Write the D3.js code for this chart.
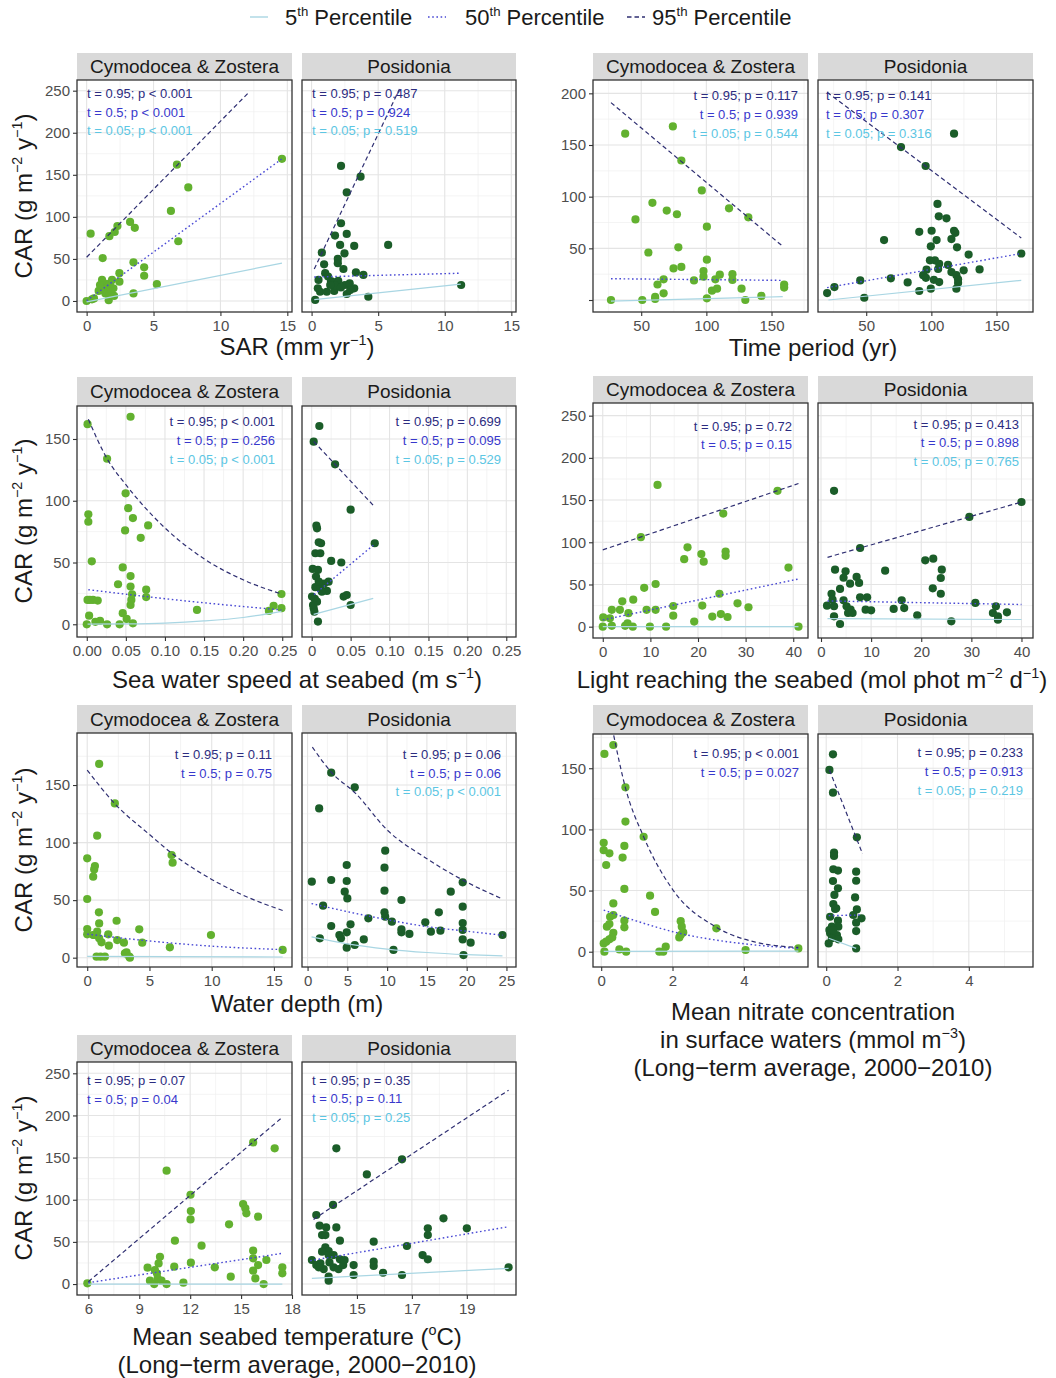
<!DOCTYPE html>
<html><head><meta charset="utf-8">
<script src="https://cdn.jsdelivr.net/npm/d3@7"></script>
<style>
body{margin:0;background:#fff;}
</style></head><body>
<svg id="c" width="1056" height="1378" xmlns="http://www.w3.org/2000/svg"></svg>
<script>
// ---------------- DATA ----------------
const facetNames = ["Cymodocea & Zostera", "Posidonia"];
const legendLabels = [["5", "th", " Percentile"], ["50", "th", " Percentile"], ["95", "th", " Percentile"]];

// SAR
const sarCZ = [[0,0],[0.4,2],[0.55,3],[0.3,80],[0.9,12],[1.15,13],[1.15,25],[1.3,21],[1.4,9],[1.6,17],[1.65,1],[1.75,21],[1.9,25],[2.05,6],[1.75,9],[1.0,19],[2.0,15],[1.2,51],[1.7,77],[2.1,82],[2.3,89],[2.45,33],[2.45,23],[3.25,94],[3.6,87],[3.5,46],[3.5,9],[4.3,40],[4.3,30],[5.25,20],[6.3,107],[6.75,162],[6.85,71],[7.6,135],[14.6,169]];
const sarPos = [[2.21,160.5],[3.68,147.8],[2.64,129],[2.21,92.4],[1.76,77.7],[2.64,79.7],[2.14,66.6],[3.2,65.4],[5.75,66.6],[0.77,57.5],[2.47,56.7],[1.97,50],[1.97,45],[0.94,43.6],[2.39,38],[1.02,33],[3.33,34],[3.89,31],[0.52,25],[1.24,29],[1.46,23.6],[1.7,22],[2.0,24],[2.5,19],[2.86,21],[3.2,15],[0.47,15],[0.64,11],[1.14,11],[1.7,12],[2.64,8.3],[4.26,5],[0.27,1.2],[11.23,19],[1.8,18],[2.2,16],[2.9,13],[1.4,19]];
const sarCZ95 = [[0,52],[12.1,247.6]];
const sarCZ50 = [[0,0.4],[14.6,169]];
const sarCZ05 = [[0,-1],[14.6,45]];
const sarPos95 = [[0.2,38],[6.6,252]];
const sarPos50 = [[0.2,28.5],[11.2,33]];
const sarPos05 = [[0.2,1.5],[11.2,20]];
const sarAnnCZ = ["t = 0.95; p < 0.001", "t = 0.5; p < 0.001", "t = 0.05; p < 0.001"];
const sarAnnPos = ["t = 0.95; p = 0.487", "t = 0.5; p = 0.924", "t = 0.05; p = 0.519"];

// Time period
const timeCZ = [[26.8,0],[37.7,161],[45.6,78],[50.8,0],[55.5,46],[58.6,94],[60.7,3],[60.7,1],[62.5,15],[67.2,20],[67.2,6.5],[69.6,86.5],[74.3,168],[74.8,30.6],[77.4,83],[78.5,51],[80.8,32],[80.8,135],[90.5,19],[96.5,106],[97.8,28],[97.8,22.6],[100.4,39],[100.4,71],[100.4,1.6],[104.3,9],[106.9,20],[108.2,11],[110.3,24.5],[117.4,88.7],[120,25],[120,19.4],[127,11],[129.9,0],[132.2,80],[142.2,4],[159.7,15],[159.7,12]];
const timePos = [[117.4,161],[76.7,148],[95.6,129.7],[104.7,93],[105.7,81],[111.6,79],[90.7,66],[100.2,67],[117.4,67],[118.4,65],[63.7,58],[104,58],[115.4,59],[99.6,52],[119.7,51],[128.6,44],[169,45],[98.9,38.4],[102.7,38.4],[106,35],[112.8,34],[96.3,29.4],[124.8,28.7],[137,29.6],[105.2,30],[93.7,24],[115.4,27],[119.2,24],[95.8,21.5],[101.9,19.5],[106,17.4],[120.5,16.5],[119.2,11],[90.7,8.7],[99.6,11],[81.8,17],[68.9,21],[45.4,19],[48.5,2.2],[25.6,12.5],[20,6.7],[120.5,20]];
const timeCZ95 = [[26.8,191],[158.6,52]];
const timeCZ50 = [[26.8,20.6],[158.6,19]];
const timeCZ05 = [[26.8,-1],[158.6,3.2]];
const timePos95 = [[20,201],[169,60]];
const timePos50 = [[20,12],[169,45]];
const timePos05 = [[21,0],[169,19]];
const timeAnnCZ = ["t = 0.95; p = 0.117", "t = 0.5; p = 0.939", "t = 0.05; p = 0.544"];
const timeAnnPos = ["t = 0.95; p = 0.141", "t = 0.5; p = 0.307", "t = 0.05; p = 0.316"];

// Sea water speed
const speedCZ = [[0.001,162],[0.002,89],[0.002,83],[0.001,19.7],[0.004,19.7],[0.008,19.7],[0.014,19.2],[0,0],[0.003,7],[0.0064,51],[0.011,2],[0.017,2.7],[0.026,0],[0.026,134],[0.040,32.4],[0.042,0],[0.046,46],[0.046,9],[0.0497,106],[0.049,76],[0.053,94],[0.051,4.3],[0.056,168],[0.056,39],[0.056,30.5],[0.058,24.3],[0.057,19.7],[0.056,15.6],[0.059,0.8],[0.059,86],[0.069,70],[0.0785,80],[0.076,28],[0.076,22],[0.141,11.6],[0.233,10.8],[0.239,15],[0.249,24.5],[0.249,13]];
const speedPos = [[0.0098,160.5],[0.0025,147.8],[0.030,129.5],[0.050,92.8],[0.081,65.6],[0.006,79.8],[0.0068,77.7],[0.009,66.4],[0.012,65.6],[0.0047,57.5],[0.011,57.5],[0.025,51.3],[0.038,50],[0.0013,44.8],[0.008,44],[0.0055,38.6],[0.0047,30],[0.011,29],[0.016,33],[0.0217,34.5],[0.0195,27],[0.0004,22.4],[0.004,20.5],[0.0068,18.3],[0.0025,13],[0.0034,10.2],[0.008,2.2],[0.041,22.4],[0.045,23.7],[0.050,15.6],[0.009,34.5],[0.013,26.4],[0.0017,15.6]];
const speedCZ95 = [[0.002,166],[0.026,134],[0.05,113],[0.1,78],[0.15,53],[0.2,36],[0.249,24.5]];
const speedCZ50 = [[0.002,28],[0.125,19],[0.249,11.6]];
const speedCZ05 = [[0.001,0.1],[0.05,0.3],[0.1,1],[0.15,2.7],[0.2,5.5],[0.249,10.5]];
const speedPos95 = [[0.0025,148],[0.081,95]];
const speedPos50 = [[0.003,24],[0.081,65]];
const speedPos05 = [[0.0025,8],[0.079,21]];
const speedAnnCZ = ["t = 0.95; p < 0.001", "t = 0.5; p = 0.256", "t = 0.05; p < 0.001"];
const speedAnnPos = ["t = 0.95; p = 0.699", "t = 0.5; p = 0.095", "t = 0.05; p = 0.529"];

// Light
const lightCZ = [[0,0],[0.1,11],[1.9,20],[1.5,10],[1.9,1],[3.6,20],[4.1,30],[4.7,1],[5.4,16],[5.2,4],[6.4,32],[6.3,0],[8.0,106],[8.7,46],[9.2,20],[9.9,0],[11.1,20],[11.1,50.6],[11.5,168],[13.3,0],[14.8,24.5],[14.8,13],[17.1,80],[17.8,94],[19.2,6],[20.7,86],[20.9,25],[21.2,77],[23,12],[24.5,39],[24.8,15],[25.3,134],[25.8,89],[25.8,84],[26.2,11.5],[28.3,27.7],[30.6,23],[36.7,161],[39,70],[41.1,0]];
const lightPos = [[2.6,161],[40,147.7],[29.6,130],[7.8,93.2],[20.8,78.6],[22.4,80.6],[2.8,67.5],[4.9,65.6],[12.8,66.4],[24.1,67.5],[4.5,58],[7.1,58.9],[7.6,51.8],[5.8,51],[23.9,57.7],[22.3,45.5],[23.9,39],[3.8,44.7],[2.1,39],[2.3,32],[4.5,31.3],[7.8,34.8],[9.2,34.8],[16.1,31.3],[30.8,28.1],[1.2,24.9],[2.6,24.2],[5.1,24.2],[5.9,20.1],[5.4,16.2],[6.3,16.2],[8.9,20.1],[10,19.4],[14.5,21],[16.6,22.1],[19.2,13.5],[34.9,24.2],[34.3,16.2],[35.3,12.3],[35.3,8.3],[37.1,17],[2.6,12.3],[3.8,3.2],[26,6.4]];
const lightCZ95 = [[0,91],[41.1,169.6]];
const lightCZ50 = [[0,8],[41.1,56.5]];
const lightCZ05 = [[0,0],[41.1,0]];
const lightPos95 = [[1.3,82.2],[40,147.7]];
const lightPos50 = [[1.3,30.5],[40,26.3]];
const lightPos05 = [[1.3,9.5],[40,8.5]];
const lightAnnCZ = ["t = 0.95; p = 0.72", "t = 0.5; p = 0.15"];
const lightAnnPos = ["t = 0.95; p = 0.413", "t = 0.5; p = 0.898", "t = 0.05; p = 0.765"];

// Water depth
const depthCZ = [[0.96,168.3],[2.22,134],[0.8,106],[0,86.3],[0.62,79.6],[0.56,76.7],[0.48,70.4],[0,51],[0.94,39.4],[0.96,29.8],[0,24.9],[0,20.3],[0.48,19.7],[0.8,22.6],[0.96,16.8],[1.15,13.3],[1.69,20.3],[1.74,10.4],[2.36,32.1],[2.41,15.3],[2.95,13],[3.03,3.8],[3.16,4.6],[3.38,0.9],[3.43,0],[4.18,24.6],[4.42,13],[6.78,89.2],[6.86,82.5],[6.64,9],[9.94,19.7],[15.7,6.7],[0.75,0.9],[1.07,0.9],[1.42,0.9],[0.56,19.7]];
const depthPos = [[2.97,160.7],[1.46,129.7],[5.93,148],[9.76,93],[9.67,78.2],[4.92,80.5],[0.53,66],[2.97,67.5],[4.92,66.6],[4.67,57.3],[5,51.5],[9.67,58.2],[18,57.3],[11.8,50.1],[19.5,65.5],[19.5,44.3],[1.95,45.2],[9.67,39.4],[9.76,35.6],[7.64,34.2],[16.5,39.4],[10.6,31.3],[14.8,30.7],[2.97,27.5],[5.4,29],[19.5,30.1],[4.92,22],[4,19.7],[4.2,16.8],[11.8,24.6],[11.8,22],[12.8,20.6],[15.5,22.6],[16.7,23.5],[19.5,24.1],[19.5,15.9],[20.5,13],[7.07,15.9],[5.93,11],[4.92,8.7],[10.8,6.7],[19.6,2.3],[24.5,19.7],[1.54,16.8]];
const depthCZ95 = [[0,163],[2.2,134],[5,107],[7,89],[10,68],[13,52],[15.7,41]];
const depthCZ50 = [[0,20.5],[5,14.5],[10,10],[15.7,7]];
const depthCZ05 = [[0,1.2],[15.7,0.6]];
const depthPos95 = [[0.6,183],[3,161],[6,143],[10,111],[15,86],[19.5,67.5],[24.5,51]];
const depthPos50 = [[0.5,47],[5,40],[10,33],[15,27],[20,23],[24.5,19.5]];
const depthPos05 = [[0.5,18],[5,12],[10,7.5],[15,4.5],[20,2.6],[24.5,1.5]];
const depthAnnCZ = ["t = 0.95; p = 0.11", "t = 0.5; p = 0.75"];
const depthAnnPos = ["t = 0.95; p = 0.06", "t = 0.5; p = 0.06", "t = 0.05; p < 0.001"];

// Nitrate
const nitCZ = [[0.09,161.7],[0.34,169],[0.68,134.4],[0.68,106.4],[1.19,94],[0.07,89],[0.07,83],[0.23,80.4],[0.14,70.9],[0.6,77],[0.65,86.5],[0.65,51.3],[0.34,39.5],[1.37,45.8],[1.51,32.5],[0.25,28.6],[0.34,30],[0.16,20.5],[0.23,22.6],[0.65,25.4],[0.65,19.9],[0.34,15.5],[0.31,11.7],[0.23,10.1],[0.14,8.2],[0.07,6.8],[0.09,0],[0.51,1.9],[0.7,0],[1.63,0],[1.74,0],[1.81,4.1],[2.23,25],[2.26,20.5],[2.19,11.7],[2.3,15.8],[2.23,13.6],[3.23,19.1],[4.05,1.4],[5.53,2.7]];
const nitPos = [[0.19,161.4],[0.09,148.6],[0.19,130],[0.86,93.5],[0.22,81],[0.22,78.3],[0.2,67.4],[0.33,66.3],[0.84,65.4],[0.19,57.8],[0.84,58],[0.33,51.8],[0.23,46.4],[0.81,44.4],[0.2,39],[0.28,35.5],[0.86,34.6],[0.76,30],[0.99,27.3],[0.11,28.6],[0.33,25.4],[0.84,23.7],[0.16,20.5],[0.34,20.5],[0.11,15],[0.3,13.6],[0.84,16.9],[0.16,11],[0.34,10.1],[0.07,6.8],[0.84,2.7],[0.25,35],[0.09,17.7],[0.2,17.7]];
const nitCZ95 = [[0.07,219],[0.35,177],[0.68,134],[1.19,94],[2,51],[3.23,20],[4.3,8],[5.53,3.5]];
const nitCZ50 = [[0.07,34],[1,25],[2.2,15],[3,10.5],[4,6.5],[5.53,2.7]];
const nitCZ05 = [[0.07,0.3],[5.53,0.5]];
const nitPos95 = [[0.09,148.6],[1.02,80]];
const nitPos50 = [[0.07,29.5],[0.95,30]];
const nitPos05 = [[0.07,11],[0.84,2.7]];
const nitAnnCZ = ["t = 0.95; p < 0.001", "t = 0.5; p = 0.027"];
const nitAnnPos = ["t = 0.95; p = 0.233", "t = 0.5; p = 0.913", "t = 0.05; p = 0.219"];

// Temperature
const tempCZ = [[5.94,0.8],[9.49,19.4],[9.63,4],[9.88,0],[9.92,16.6],[10.04,12.7],[10.08,6.7],[10.14,24.5],[10.22,32.4],[10.31,4],[10.61,0],[10.61,134.5],[11.1,51.4],[11.06,20.6],[11.6,1.6],[12.02,105.9],[12.04,86.6],[12.02,76.7],[12.04,25.3],[12.67,45.5],[13.45,19.8],[14.29,70.8],[14.39,8.7],[15.12,94.9],[15.25,89.8],[15.31,83.9],[15.71,168],[15.71,39.6],[15.71,30.5],[15.71,15.8],[15.84,6.7],[16,79.9],[16,22.5],[16.33,0],[16.49,28.5],[16.98,161],[17.43,19.8],[17.43,12.7]];
const tempPos = [[13.52,81.9],[14.25,161],[15.36,130],[16.64,148],[14.13,93.8],[13.64,69.2],[13.73,58.1],[13.85,58.1],[13.88,67.2],[14.25,67.2],[14.38,51.4],[15.61,50.2],[16.82,45.1],[18.15,77.9],[17.58,66.1],[17.58,58.1],[19,66.1],[13.85,43.5],[13.97,39.2],[13.73,38.4],[13.97,34.4],[14.15,34.4],[14.38,29.3],[17.39,34.4],[17.58,29.3],[13.36,28.5],[13.52,22.5],[13.67,24.5],[13.79,17.8],[14,25.7],[14.15,19.8],[14.33,17.8],[14.5,22.5],[14.55,28.5],[14.88,22.5],[14.88,10.7],[15.61,26.5],[15.61,21.4],[15.95,13.4],[16.64,10.7],[13.97,8.7],[13.97,4],[20.52,19.8],[13.61,19.8]];
const tempCZ95 = [[6,2.8],[17.43,197.8]];
const tempCZ50 = [[6,1.6],[17.43,36.4]];
const tempCZ05 = [[6,0],[17.43,0]];
const tempPos95 = [[13.42,76.7],[20.52,230]];
const tempPos50 = [[13.3,27.7],[20.52,68]];
const tempPos05 = [[13.36,6.7],[20.52,18.6]];
const tempAnnCZ = ["t = 0.95; p = 0.07", "t = 0.5; p = 0.04"];
const tempAnnPos = ["t = 0.95; p = 0.35", "t = 0.5; p = 0.11", "t = 0.05; p = 0.25"];

// Tick values
const carTicks250 = [0,50,100,150,200,250];
const carTicks200 = [0,50,100,150,200];
const carTicks150 = [0,50,100,150];
const sarTicks = [0,5,10,15];
const timeTicks = [50,100,150];
const speedTicks = [0,0.05,0.10,0.15,0.20,0.25];
const speedLabelsCZ = ["0.00","0.05","0.10","0.15","0.20","0.25"];
const speedLabelsPos = ["0","0.05","0.10","0.15","0.20","0.25"];
const lightTicks = [0,10,20,30,40];
const depthTicksCZ = [0,5,10,15];
const depthTicksPos = [0,5,10,15,20,25];
const nitTicks = [0,2,4];
const tempTicksCZ = [6,9,12,15,18];
const tempTicksPos = [15,17,19];

// ---------------- DRAWING ----------------
const FONT = "'Liberation Sans', Arial, Helvetica, sans-serif";
const COL_CZ = "#62b12f", COL_POS = "#1b5d29";
const COL95 = "#2f2f72", COL50 = "#4848d4", COL05 = "#a9d6e3";
const TXT = ["#2c2c80", "#3838cc", "#5cc6e3"];

const svg = d3.select("#c").style("font-family", FONT);
let clipN = 0;

function rich(sel, parts, fs) {
  let up = false;
  parts.forEach(p => {
    if (typeof p === "string") {
      const t = sel.append("tspan").text(p);
      if (up) { t.attr("dy", fs * 0.42); up = false; }
    } else {
      sel.append("tspan").attr("dy", -fs * 0.42).attr("font-size", fs * 0.6).text(p.s);
      up = true;
    }
  });
  return sel;
}

function panel(c) {
  const g = svg.append("g");
  const x = d3.scaleLinear().domain(c.xd).range([c.x0, c.x1]);
  const y = d3.scaleLinear().domain(c.yd).range([c.y1, c.y0]);
  g.append("rect").attr("x", c.x0).attr("y", c.sy).attr("width", c.x1 - c.x0).attr("height", c.y0 - c.sy).attr("fill", "#d9d9d9");
  g.append("text").attr("x", (c.x0 + c.x1) / 2).attr("y", (c.sy + c.y0) / 2 + 6.5)
    .attr("text-anchor", "middle").attr("font-size", 19).attr("fill", "#1a1a1a").text(c.name);
  const inX = v => v > c.xd[0] && v < c.xd[1];
  const inY = v => v > c.yd[0] && v < c.yd[1];
  g.selectAll(null).data((c.xm || []).filter(inX)).join("line")
    .attr("x1", d => x(d)).attr("x2", d => x(d)).attr("y1", c.y0).attr("y2", c.y1).attr("stroke", "#efefef").attr("stroke-width", 0.7);
  g.selectAll(null).data((c.ym || []).filter(inY)).join("line")
    .attr("y1", d => y(d)).attr("y2", d => y(d)).attr("x1", c.x0).attr("x2", c.x1).attr("stroke", "#efefef").attr("stroke-width", 0.7);
  g.selectAll(null).data(c.xt.filter(inX)).join("line")
    .attr("x1", d => x(d)).attr("x2", d => x(d)).attr("y1", c.y0).attr("y2", c.y1).attr("stroke", "#e4e4e4").attr("stroke-width", 1.1);
  g.selectAll(null).data(c.yt.filter(inY)).join("line")
    .attr("y1", d => y(d)).attr("y2", d => y(d)).attr("x1", c.x0).attr("x2", c.x1).attr("stroke", "#e4e4e4").attr("stroke-width", 1.1);
  const id = "clp" + (clipN++);
  svg.append("clipPath").attr("id", id).append("rect").attr("x", c.x0).attr("y", c.y0).attr("width", c.x1 - c.x0).attr("height", c.y1 - c.y0);
  const inner = g.append("g").attr("clip-path", `url(#${id})`);
  inner.selectAll("circle").data(c.pts).join("circle")
    .attr("cx", d => x(d[0])).attr("cy", d => y(d[1])).attr("r", 4.1).attr("fill", c.col);
  const line = d3.line().x(d => x(d[0])).y(d => y(d[1])).curve(d3.curveMonotoneX);
  if (c.q05) inner.append("path").attr("d", line(c.q05)).attr("fill", "none").attr("stroke", COL05).attr("stroke-width", 1.2);
  if (c.q50) inner.append("path").attr("d", line(c.q50)).attr("fill", "none").attr("stroke", COL50).attr("stroke-width", 1.4).attr("stroke-dasharray", "1.6,2.6");
  if (c.q95) inner.append("path").attr("d", line(c.q95)).attr("fill", "none").attr("stroke", COL95).attr("stroke-width", 1.2).attr("stroke-dasharray", "4.5,3");
  c.ann.forEach((t, i) => {
    g.append("text").attr("x", c.ax).attr("y", c.ay + i * 18.7 + 4.6)
      .attr("text-anchor", c.aa).attr("font-size", 13).attr("fill", TXT[i]).text(t);
  });
  g.append("rect").attr("x", c.x0).attr("y", c.y0).attr("width", c.x1 - c.x0).attr("height", c.y1 - c.y0)
    .attr("fill", "none").attr("stroke", "#333").attr("stroke-width", 1.3);
  const ax = d3.axisBottom(x).tickValues(c.xt).tickSize(4).tickPadding(4)
    .tickFormat((d, i) => c.xl ? c.xl[i] : d);
  const ga = g.append("g").attr("transform", `translate(0,${c.y1})`).call(ax);
  ga.select(".domain").remove();
  ga.selectAll("line").attr("stroke", "#333").attr("stroke-width", 1.1);
  ga.selectAll("text").attr("fill", "#4d4d4d").attr("font-size", 15).attr("font-family", FONT);
  if (c.yax) {
    const ay = d3.axisLeft(y).tickValues(c.yt).tickSize(4).tickPadding(3)
      .tickFormat(d => (c.noZero && d === 0) ? "" : d);
    const gy = g.append("g").attr("transform", `translate(${c.x0},0)`).call(ay);
    gy.select(".domain").remove();
    gy.selectAll("line").attr("stroke", "#333").attr("stroke-width", 1.1);
    gy.selectAll("text").attr("fill", "#4d4d4d").attr("font-size", 15).attr("font-family", FONT);
  }
}

function xTitle(lines, cx, y0) {
  lines.forEach((parts, i) => {
    const t = svg.append("text").attr("x", cx).attr("y", y0 + i * 28).attr("text-anchor", "middle")
      .attr("font-size", 24).attr("fill", "#1a1a1a");
    rich(t, parts, 24);
  });
}
function yTitle(cy) {
  const t = svg.append("text").attr("transform", `translate(32,${cy}) rotate(-90)`).attr("text-anchor", "middle")
    .attr("font-size", 24).attr("fill", "#1a1a1a");
  rich(t, ["CAR (g m", {s: "−2"}, " y", {s: "−1"}, ")"], 24);
}

const L = {a0: 77, a1: 292, b0: 302, b1: 516};
const R = {a0: 593, a1: 808, b0: 818, b1: 1033};

// Group 1: SAR
const g1 = {sy: 53, y0: 80, y1: 312, yd: [-13.1, 262.7], yt: carTicks250, ym: [25,75,125,175,225], xd: [-0.72, 15.35], xt: sarTicks, xm: [2.5,7.5,12.5]};
panel({...g1, name: facetNames[0], x0: L.a0, x1: L.a1, pts: sarCZ, col: COL_CZ, q95: sarCZ95, q50: sarCZ50, q05: sarCZ05, ann: sarAnnCZ, ax: 87, ay: 93.3, aa: "start", yax: true});
panel({...g1, name: facetNames[1], x0: L.b0, x1: L.b1, pts: sarPos, col: COL_POS, q95: sarPos95, q50: sarPos50, q05: sarPos05, ann: sarAnnPos, ax: 312, ay: 93.3, aa: "start"});
xTitle([["SAR (mm yr", {s: "−1"}, ")"]], 297, 355);
yTitle(196);

// Group 2: Time period
const g2 = {sy: 53, y0: 80, y1: 312, yd: [-11.6, 212.9], yt: carTicks200, ym: [25,75,125,175], xd: [13, 178], xt: timeTicks, xm: [25,75,125,175]};
panel({...g2, name: facetNames[0], x0: R.a0, x1: R.a1, pts: timeCZ, col: COL_CZ, q95: timeCZ95, q50: timeCZ50, q05: timeCZ05, ann: timeAnnCZ, ax: 798, ay: 95.5, aa: "end", yax: true, noZero: true});
panel({...g2, name: facetNames[1], x0: R.b0, x1: R.b1, pts: timePos, col: COL_POS, q95: timePos95, q50: timePos50, q05: timePos05, ann: timeAnnPos, ax: 826, ay: 95.5, aa: "start"});
xTitle([["Time period (yr)"]], 813, 356);

// Group 3: Sea water speed
const g3 = {sy: 377, y0: 406, y1: 637, yd: [-10.3, 176.7], yt: carTicks150, ym: [25,75,125,175], xd: [-0.0125, 0.2625], xt: speedTicks, xm: [0.025,0.075,0.125,0.175,0.225]};
panel({...g3, name: facetNames[0], x0: L.a0, x1: L.a1, pts: speedCZ, col: COL_CZ, q95: speedCZ95, q50: speedCZ50, q05: speedCZ05, ann: speedAnnCZ, xl: speedLabelsCZ, ax: 275, ay: 421.7, aa: "end", yax: true});
panel({...g3, name: facetNames[1], x0: L.b0, x1: L.b1, pts: speedPos, col: COL_POS, q95: speedPos95, q50: speedPos50, q05: speedPos05, ann: speedAnnPos, xl: speedLabelsPos, ax: 501, ay: 421.7, aa: "end"});
xTitle([["Sea water speed at seabed (m s", {s: "−1"}, ")"]], 297, 688);
yTitle(521);

// Group 4: Light
const g4 = {sy: 376, y0: 403, y1: 638, yd: [-13.4, 265], yt: carTicks250, ym: [25,75,125,175,225], xt: lightTicks, xm: [5,15,25,35]};
panel({...g4, name: facetNames[0], x0: R.a0, x1: R.a1, xd: [-2.05, 43.1], pts: lightCZ, col: COL_CZ, q95: lightCZ95, q50: lightCZ50, q05: lightCZ05, ann: lightAnnCZ, ax: 792, ay: 426, aa: "end", yax: true});
panel({...g4, name: facetNames[1], x0: R.b0, x1: R.b1, xd: [-0.6, 42.3], pts: lightPos, col: COL_POS, q95: lightPos95, q50: lightPos50, q05: lightPos05, ann: lightAnnPos, ax: 1019, ay: 424, aa: "end"});
xTitle([["Light reaching the seabed (mol phot m", {s: "−2"}, " d", {s: "−1"}, ")"]], 812, 688);

// Group 5: Water depth
const g5 = {sy: 705, y0: 733, y1: 967, yd: [-8.1, 195.2], yt: carTicks150, ym: [25,75,125,175]};
panel({...g5, name: facetNames[0], x0: L.a0, x1: L.a1, xd: [-0.82, 16.45], xt: depthTicksCZ, xm: [2.5,7.5,12.5], pts: depthCZ, col: COL_CZ, q95: depthCZ95, q50: depthCZ50, q05: depthCZ05, ann: depthAnnCZ, ax: 272, ay: 754.3, aa: "end", yax: true});
panel({...g5, name: facetNames[1], x0: L.b0, x1: L.b1, xd: [-0.7, 26.2], xt: depthTicksPos, xm: [2.5,7.5,12.5,17.5,22.5], pts: depthPos, col: COL_POS, q95: depthPos95, q50: depthPos50, q05: depthPos05, ann: depthAnnPos, ax: 501, ay: 754.3, aa: "end"});
xTitle([["Water depth (m)"]], 297, 1012);
yTitle(850);

// Group 6: Nitrate
const g6 = {sy: 705, y0: 734, y1: 967, yd: [-12.5, 178], yt: carTicks150, ym: [25,75,125,175], xd: [-0.23, 5.8], xt: nitTicks, xm: [1,3,5]};
panel({...g6, name: facetNames[0], x0: R.a0, x1: R.a1, pts: nitCZ, col: COL_CZ, q95: nitCZ95, q50: nitCZ50, q05: nitCZ05, ann: nitAnnCZ, ax: 799, ay: 753.3, aa: "end", yax: true});
panel({...g6, name: facetNames[1], x0: R.b0, x1: R.b1, pts: nitPos, col: COL_POS, q95: nitPos95, q50: nitPos50, q05: nitPos05, ann: nitAnnPos, ax: 1023, ay: 752.7, aa: "end"});
xTitle([["Mean nitrate concentration"], ["in surface waters (mmol m", {s: "−3"}, ")"], ["(Long−term average, 2000−2010)"]], 813, 1020);

// Group 7: Temperature
const g7 = {sy: 1035, y0: 1062, y1: 1295, yd: [-13, 263.4], yt: carTicks250, ym: [25,75,125,175,225]};
panel({...g7, name: facetNames[0], x0: L.a0, x1: L.a1, xd: [5.33, 18.0], xt: tempTicksCZ, xm: [7.5,10.5,13.5,16.5], pts: tempCZ, col: COL_CZ, q95: tempCZ95, q50: tempCZ50, q05: tempCZ05, ann: tempAnnCZ, ax: 87, ay: 1080.7, aa: "start", yax: true});
panel({...g7, name: facetNames[1], x0: L.b0, x1: L.b1, xd: [13.0, 20.79], xt: tempTicksPos, xm: [14,16,18,20], pts: tempPos, col: COL_POS, q95: tempPos95, q50: tempPos50, q05: tempPos05, ann: tempAnnPos, ax: 312, ay: 1080, aa: "start"});
xTitle([["Mean seabed temperature (", {s: "o"}, "C)"], ["(Long−term average, 2000−2010)"]], 297, 1345);
yTitle(1178);

// Legend
const legendItems = [
  {x: 250, col: COL05, dash: null, w: 1.4},
  {x: 428, col: COL50, dash: "1.6,2.6", w: 1.6},
  {x: 627, col: COL95, dash: "4.5,3", w: 1.4}
];
const legendTextX = [285, 465, 652];
legendItems.forEach((it, i) => {
  svg.append("line").attr("x1", it.x).attr("x2", it.x + 18).attr("y1", 17).attr("y2", 17)
    .attr("stroke", it.col).attr("stroke-width", it.w).attr("stroke-dasharray", it.dash);
  const t = svg.append("text").attr("x", legendTextX[i]).attr("y", 25).attr("font-size", 22).attr("fill", "#1a1a1a");
  rich(t, [legendLabels[i][0], {s: legendLabels[i][1]}, legendLabels[i][2]], 22);
});
</script></body></html>
